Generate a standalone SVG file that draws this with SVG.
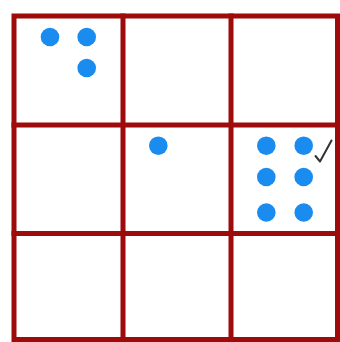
<svg xmlns="http://www.w3.org/2000/svg" width="340" height="342" viewBox="0 0 340 342">
<style>
.grid{stroke:#9e0b0b;stroke-width:5;fill:none;stroke-linecap:square}
.dot{fill:#1a8cf0}
.check{stroke:#333;stroke-width:2;fill:none;stroke-linecap:round;stroke-linejoin:round}
</style>
<rect width="340" height="342" fill="#fff"/>
<g id="grid">
<rect class="grid" x="14" y="16" width="323.5" height="323.5"/>
<line class="grid" x1="123" y1="16" x2="123" y2="339.5"/>
<line class="grid" x1="231" y1="16" x2="231" y2="339.5"/>
<line class="grid" x1="14" y1="125" x2="337.5" y2="125"/>
<line class="grid" x1="14" y1="233.5" x2="337.5" y2="233.5"/>
</g>
<g id="cell-1">
<circle class="dot" cx="50" cy="37" r="9.3"/>
<circle class="dot" cx="86.7" cy="37" r="9.3"/>
<circle class="dot" cx="86.7" cy="68" r="9.3"/>
</g>
<g id="cell-5">
<circle class="dot" cx="158.3" cy="145.7" r="9.3"/>
</g>
<g id="cell-6">
<circle class="dot" cx="266.3" cy="145.7" r="9.3"/>
<circle class="dot" cx="303.7" cy="145.7" r="9.3"/>
<circle class="dot" cx="266.3" cy="177" r="9.3"/>
<circle class="dot" cx="303.7" cy="177" r="9.3"/>
<circle class="dot" cx="266.3" cy="212.5" r="9.3"/>
<circle class="dot" cx="303.7" cy="212.5" r="9.3"/>
<path class="check" d="M315.5,156 L320,161.5 L331.5,140.5"/>
</g>
</svg>
